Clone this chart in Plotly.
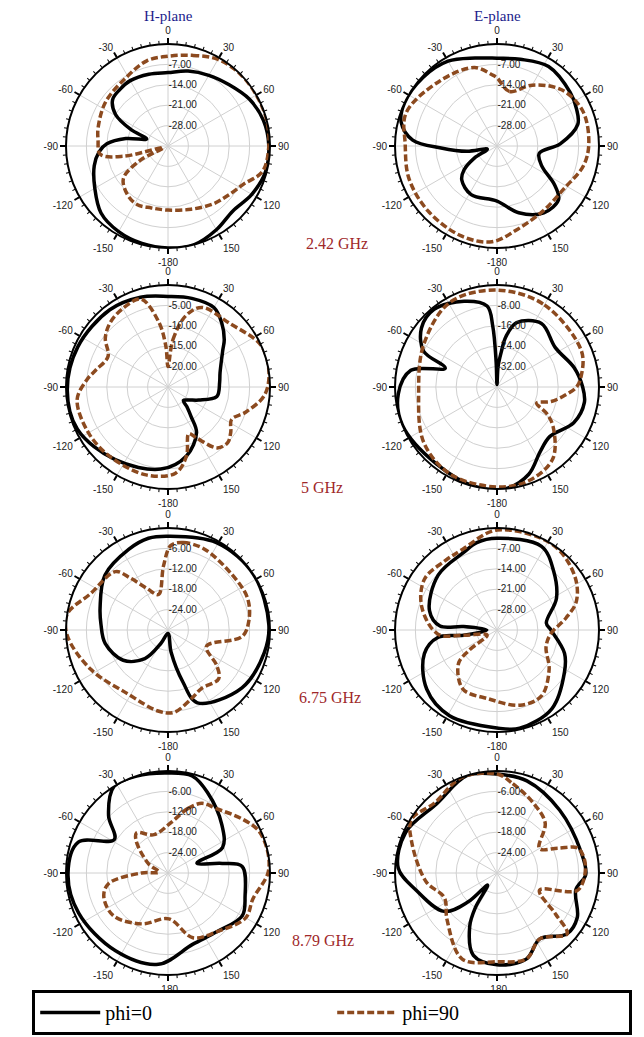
import plotly.graph_objects as go

W, H = 644, 1037

# ángulos en grados (0 arriba, sentido horario) y ganancia en dB

# 2.42 GHz, plano H
th_h242_p0 = [0, 15, 30, 45, 60, 75, 90, 105, 120, 135, 150, 165, 180, -165, -150, -135, -120,
              -105, -95, -88, -80, -72, -66, -59, -50, -40, -30, -15]
r_h242_p0 = [-9.8, -8.4, -7.0, -5.3, -2.8, -1.1, -0.4, -0.4, -1.8, -3.5, -1.8, 0, 0, -0.4, -1.1,
             -2.5, -6.0, -8.8, -11.2, -14.0, -20.3, -27.3, -21.0, -14.0, -10.2, -9.5, -9.1, -9.5]
th_h242_p90 = [0, 15, 30, 45, 60, 75, 90, 105, 117, 130, 142, 160, 180, -165, -152, -140, -126,
               -117, -110, -103, -97, -85, -75, -55, -31, -14]
r_h242_p90 = [-4.2, -2.8, -0.7, 0, 0, 0, -0.4, -1.4, -6.0, -8.4, -9.8, -11.9, -13.0, -13.0, -12.3,
              -13.3, -16.1, -24.5, -33.3, -19.3, -11.6, -10.9, -10.2, -8.8, -7.4, -4.9]

# 2.42 GHz, plano E
th_e242_p0 = [0, 15, 33, 54, 65, 75, 88, 100, 114, 124, 131, 145, 162, 180, -152, -134, -126,
              -118, -108, -100, -92, -86, -76, -65, -47, -30, -14]
r_e242_p0 = [-4.9, -4.2, -2.5, -3.9, -4.9, -6.3, -13.3, -20.3, -18.2, -11.2, -7.0, -7.0, -10.9,
             -16.1, -16.1, -18.2, -21.0, -26.3, -31.5, -24.5, -15.8, -6.0, -1.1, 0, -0.4, -1.4, -3.9]
th_e242_p90 = [0, 13, 30, 49, 68, 89, 103, 122, 144, 166, -177, -158, -133, -110, -89, -70, -41, -16, -4]
r_e242_p90 = [-11.6, -15.8, -10.9, -5.6, -3.2, -3.5, -4.6, -7.7, -7.7, -5.6, -2.1, -1.8, -2.5,
              -2.8, -3.5, -1.8, -5.3, -7.0, -10.5]

# 5 GHz, plano H
th_h5_p0 = [0, 15, 30, 40, 50, 56, 75, 85, 101, 113, 122, 131, 137, 142, 148, 165, -175, -144,
            -115, -92, -66, -37, -17]
r_h5_p0 = [-2.8, -2.5, -2.5, -4.5, -7.0, -8.8, -11.8, -12.3, -12.8, -16.8, -19.0, -20.0, -18.0,
           -15.8, -11.8, -7.5, -4.8, -3.0, -0.5, -0.3, -0.8, -1.3, -2.0]
th_h5_p90 = [0, 6, 14, 23, 44, 66, 82, 95, 108, 117, 126, 133, 141, 151, 156, 165, 175, -166,
             -140, -120, -98, -85, -77, -63, -52, -42, -30, -17, -8, -3]
r_h5_p90 = [-20, -13.3, -7, -3.8, -3.3, 0, 0, -1.3, -5, -7.5, -6, -5, -5.8, -10.8, -12.5, -7.5,
            -3.8, -2.8, -2.8, -2.5, -2.5, -5, -6.8, -8.5, -5.5, -3.8, -2.8, -2.5, -9, -15]

# 5 GHz, plano E
th_e5_p0 = [0, 3, 7, 10, 17, 35, 56, 76, 90, 100, 115, 133, 146, 160, 175, -168, -142, -112,
            -94, -79, -70, -64, -52, -39, -21, -7, -4, -2]
r_e5_p0 = [-39, -32, -26, -20, -13.6, -9.6, -12.4, -8.8, -6.4, -5.2, -6.8, -11.6, -9.6, -3.6, 0,
           0, -1.6, 0, -1.2, -5.6, -18.4, -8, -2.4, -0.8, -4, -8, -16, -30]
th_e5_p90 = [0, 30, 67, 83, 90, 97, 105, 112, 118, 125, 142, 161, 180, -152, -127, -94, -60, -29]
r_e5_p90 = [-2, -2.8, -4, -6.8, -8.8, -13.2, -18, -23.2, -18, -13.2, -4.4, -1.2, -0.8, -1.2, -4,
            -9.2, -6.8, -2]

# 6.75 GHz, plano H
th_h675_p0 = [0, 29, 57, 87, 103, 128, 158, 164, 172, 180, -152, -141, -124, -102, -85, -72, -49, -26, -12]
r_h675_p0 = [-2.4, -0.6, 0, -0.3, -0.9, -2.4, -6.9, -14.1, -23.4, -29, -25.5, -19.2, -14.1,
             -11.1, -10.2, -9, -5.4, -3.6, -2.4]
th_h675_p90 = [2, 10, 24, 49, 68, 83, 95, 113, 126, 134, 150, 161, 176, -173, -148, -117, -93,
               -81, -65, -42, -36, -27, -15, -4]
r_h675_p90 = [-5.1, -3.9, -3.9, -5.1, -4.8, -6, -8.1, -17.7, -12.3, -9.3, -10.2, -8.7, -5.7, -6,
              -7.8, -4.5, -0.3, 0, -4.8, -6.9, -11.1, -16.2, -19.2, -11.1]

# 6.75 GHz, plano E
th_e675_p0 = [0, 28, 44, 62, 82, 90, 109, 122, 145, 167, 180, -151, -130, -108, -97, -99, -90,
              -84, -86, -74, -47, -23, -13]
r_e675_p0 = [-3.5, -2.5, -7, -11.9, -17.9, -16.5, -10.5, -7.7, -2.1, -0.4, -1.4, -1.4, -3.5,
             -8.8, -14.7, -23.5, -31.5, -23.5, -15.4, -10.9, -7.4, -6, -4.2]
th_e675_p90 = [0, 33, 55, 70, 80, 94, 109, 127, 146, 163, -173, -150, -131, -126, -117, -99,
               -94, -73, -55, -37, -23]
r_e675_p90 = [-0.7, 0, -2.5, -6, -10.9, -16.5, -17.2, -12.6, -7.7, -8, -11.2, -11.6, -17.5,
              -23.1, -31.2, -23.5, -14.7, -8, -4.6, -5.3, -4.9]

# 8.79 GHz, plano H
th_h879_p0 = [0, 14, 26, 48, 65, 71, 80, 85, 107, 120, 140, 161, -174, -146, -114, -90, -71,
              -58, -46, -32, -18]
r_h879_p0 = [-0.6, -0.6, -3.6, -8.7, -12.3, -21, -13.8, -8.1, -6.3, -4.8, -7.5, -7.8, -3, -2.4,
             -1.2, -0.6, -2.1, -11.4, -5.7, 0, 0]
th_h879_p90 = [4, 17, 26, 37, 54, 65, 78, 90, 107, 120, 140, 159, 179, -153, -128, -110, -100,
               -90, -84, -65, -45, -38, -20]
r_h879_p90 = [-15, -10.2, -7.2, -6.3, -3, -0.6, 0, -0.6, -3.9, -3.6, -7.5, -9.6, -16.5, -13.2,
              -9.6, -9.9, -12.3, -22.2, -27.3, -23.7, -16.8, -15, -18]

# 8.79 GHz, plano E
th_e879_p0 = [0, 18, 45, 76, 91, 102, 119, 131, 147, 161, 180, -164, -153, -148, -142, -135,
              -126, -102, -87, -66, -41, -17]
r_e879_p0 = [-0.9, -1.5, -3.9, -4.5, -3.9, -6.3, -3, -2.7, -6.9, -3.3, -3, -4.8, -12.3, -18,
             -25.5, -18, -10.8, -5.7, -0.9, -0.6, -3, 0]
th_e879_p90 = [0, 10, 28, 44, 60, 68, 73, 85, 102, 112, 125, 131, 147, 161, 180, -158, -133,
               -115, -97, -70, -58, -42, -20]
r_e879_p90 = [-0.9, -3.3, -6.9, -9.6, -15.6, -10.5, -5.1, -3.9, -5.7, -16.5, -9, -2.7, -6.9,
              -3.3, -3.9, -2.7, -9.9, -12.9, -9, -3.3, -0.3, -2.4, 0]

# escalas radiales (anillos) de cada panel; el centro queda un paso por debajo del último
anillos_h242 = [-7, -14, -21, -28]
anillos_e242 = [-7, -14, -21, -28]
anillos_h5 = [-5, -10, -15, -20]
anillos_e5 = [-8, -16, -24, -32]
anillos_h675 = [-6, -12, -18, -24]
anillos_e675 = [-7, -14, -21, -28]
anillos_h879 = [-6, -12, -18, -24]
anillos_e879 = [-6, -12, -18, -24]

frecuencias = ['2.42 GHz', '5 GHz', '6.75 GHz', '8.79 GHz']
planos = ['H-plane', 'E-plane']

paneles = [
    (th_h242_p0, r_h242_p0, th_h242_p90, r_h242_p90, anillos_h242),
    (th_e242_p0, r_e242_p0, th_e242_p90, r_e242_p90, anillos_e242),
    (th_h5_p0, r_h5_p0, th_h5_p90, r_h5_p90, anillos_h5),
    (th_e5_p0, r_e5_p0, th_e5_p90, r_e5_p90, anillos_e5),
    (th_h675_p0, r_h675_p0, th_h675_p90, r_h675_p90, anillos_h675),
    (th_e675_p0, r_e675_p0, th_e675_p90, r_e675_p90, anillos_e675),
    (th_h879_p0, r_h879_p0, th_h879_p90, r_h879_p90, anillos_h879),
    (th_e879_p0, r_e879_p0, th_e879_p90, r_e879_p90, anillos_e879),
]

centros_x = [168, 497]
centros_y = [146, 387, 630, 873]
RADIO = 102

ang_vals = [0, 30, 60, 90, 120, 150, 180, 210, 240, 270, 300, 330]
ang_text = ['0', '30', '60', '90', '120', '150', '-180', '-150', '-120', '-90', '-60', '-30']

NEGRO = '#000000'
MARRON = '#8c4a1f'


def cerrar(lst):
    return list(lst) + [lst[0]]


def dominio(cx, cy):
    return dict(
        x=[(cx - RADIO) / W, (cx + RADIO) / W],
        y=[1 - (cy + RADIO) / H, 1 - (cy - RADIO) / H],
    )


fig = go.Figure()
layout_polar = {}

for i, (th0, r0, th90, r90, anillos) in enumerate(paneles):
    fila, col = divmod(i, 2)
    nombre = 'polar' if i == 0 else f'polar{i + 1}'
    centro = anillos[-1] + (anillos[1] - anillos[0])

    fig.add_trace(go.Scatterpolar(
        r=cerrar(r0), theta=cerrar(th0), mode='lines', subplot=nombre,
        line=dict(color=NEGRO, width=3.5, shape='spline', smoothing=1.0),
        name='phi=0', showlegend=(i == 0), legendrank=1,
    ))
    fig.add_trace(go.Scatterpolar(
        r=cerrar(r90), theta=cerrar(th90), mode='lines', subplot=nombre,
        line=dict(color=MARRON, width=3.5, dash='7px,3px', shape='spline', smoothing=1.0),
        name='phi=90', showlegend=(i == 0), legendrank=2,
    ))

    dom = dominio(centros_x[col], centros_y[fila])
    layout_polar[nombre] = dict(
        domain=dom,
        bgcolor='white',
        angularaxis=dict(
            rotation=90, direction='clockwise',
            tickmode='array', tickvals=ang_vals, ticktext=ang_text,
            ticks='outside', ticklen=5, tickcolor=NEGRO, tickwidth=1.5,
            showline=True, linecolor=NEGRO, linewidth=2,
            gridcolor='#d0d0d0', gridwidth=1,
            tickfont=dict(family='Liberation Sans', size=10, color='#222'),
        ),
        radialaxis=dict(
            range=[centro, 0], tickmode='array', tickvals=anillos,
            ticktext=[f'{v:.2f}' for v in anillos],
            angle=90, tickangle=90, side='clockwise',
            showline=False, ticks='',
            gridcolor='#d0d0d0', gridwidth=1,
            tickfont=dict(family='Liberation Sans', size=10, color='#222'),
        ),
    )

    # capa superpuesta solo para las marcas menores del borde
    nombre2 = f'polar{i + 9}'
    fig.add_trace(go.Scatterpolar(r=[], theta=[], subplot=nombre2, showlegend=False))
    layout_polar[nombre2] = dict(
        domain=dom,
        bgcolor='rgba(0,0,0,0)',
        angularaxis=dict(
            rotation=90, direction='clockwise',
            tickmode='array', tickvals=list(range(0, 360, 5)),
            ticktext=['' for _ in range(0, 360, 5)],
            ticks='outside', ticklen=3, tickcolor=NEGRO, tickwidth=1,
            showline=False, showgrid=False,
        ),
        radialaxis=dict(visible=False, range=[centro, 0]),
    )

anotaciones = []
for j, plano in enumerate(planos):
    anotaciones.append(dict(
        text=plano, x=centros_x[j] / W, y=1 - 16 / H, xref='paper', yref='paper',
        xanchor='center', yanchor='middle', showarrow=False,
        font=dict(family='Liberation Serif', size=15, color='#1c1c8c'),
    ))

pos_frec = [(337, 243), (322, 487), (330, 697), (323, 940)]
for texto, (px, py) in zip(frecuencias, pos_frec):
    anotaciones.append(dict(
        text=texto, x=px / W, y=1 - py / H, xref='paper', yref='paper',
        xanchor='center', yanchor='middle', showarrow=False,
        font=dict(family='Liberation Serif', size=16, color='#a0282a'),
    ))

fig.update_layout(
    width=W, height=H,
    margin=dict(l=0, r=0, t=0, b=0, autoexpand=False),
    paper_bgcolor='white',
    annotations=anotaciones,
    showlegend=True,
    legend=dict(
        orientation='h', x=0.05, y=0.002, xanchor='left', yanchor='bottom',
        bordercolor=NEGRO, borderwidth=3, bgcolor='white',
        entrywidth=222, itemwidth=60, tracegroupgap=0,
        font=dict(family='Liberation Serif', size=20, color=NEGRO),
    ),
    **layout_polar,
)

# quitar el margen por defecto del body para que la figura ocupe toda la ventana
fig.write_html("out.html", config={'displayModeBar': False},
               post_script="document.body.style.margin='0';")
